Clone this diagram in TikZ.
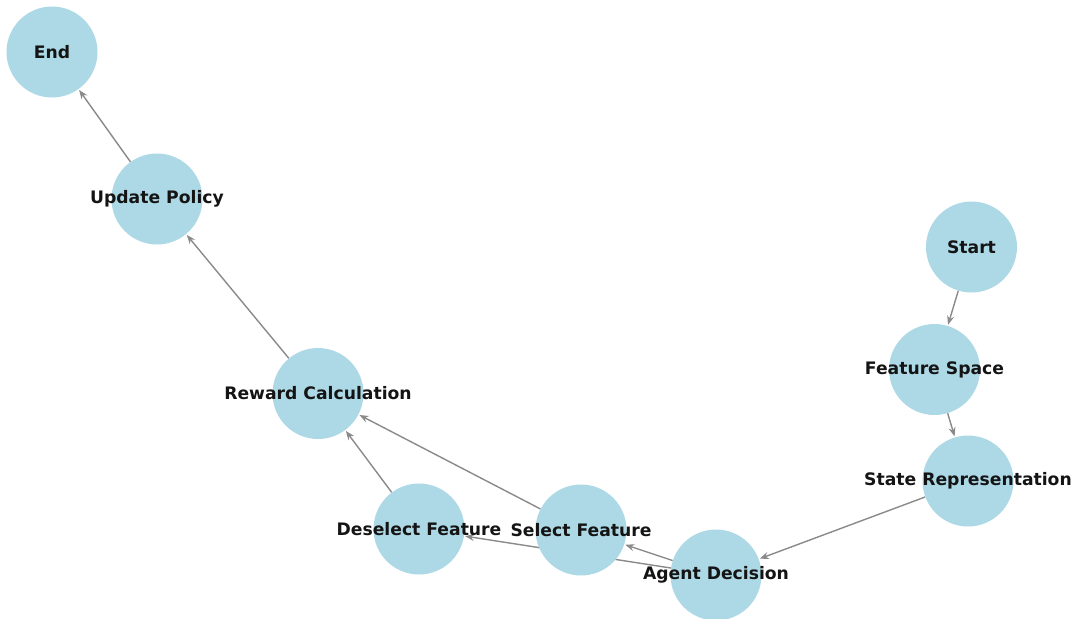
\documentclass[tikz,border=0pt]{standalone}
\usepackage{fontspec}
\setmainfont{DejaVu Sans}
\usetikzlibrary{arrows.meta,backgrounds}
\definecolor{nodeblue}{HTML}{ADD8E6}
\definecolor{edgegray}{HTML}{8A8A8A}
\tikzset{
  nodecirc/.style={circle,fill=nodeblue,draw=none,minimum size=91pt,inner sep=0pt},
  lbl/.style={font=\fontsize{17.2}{19}\selectfont\bfseries,text=black!92,inner sep=0pt},
  edge/.style={draw=edgegray,line width=1.4pt,-{Stealth[length=9pt,width=7pt]},shorten >=1pt}
}
\begin{document}
\begin{tikzpicture}[x=1pt,y=-1pt]
\useasboundingbox (0,0) rectangle (1072,619);
\clip (0,0) rectangle (1072,619);
\node[nodecirc] (end) at (52,52) {};
\node[nodecirc] (upd) at (157,199) {};
\node[nodecirc] (rew) at (318,393.5) {};
\node[nodecirc] (desel) at (419,529) {};
\node[nodecirc] (sel) at (581,530) {};
\node[nodecirc] (agent) at (716,575) {};
\node[nodecirc] (state) at (968,481) {};
\node[nodecirc] (fspace) at (934.5,369.5) {};
\node[nodecirc] (start) at (971.5,247) {};
\begin{scope}[on background layer]
\draw[edge] (start) -- (fspace);
\draw[edge] (fspace) -- (state);
\draw[edge] (state) -- (agent);
\draw[edge] (agent) -- (sel);
\draw[edge] (agent) -- (desel);
\draw[edge] (sel) -- (rew);
\draw[edge] (desel) -- (rew);
\draw[edge] (rew) -- (upd);
\draw[edge] (upd) -- (end);
\end{scope}
\node[lbl] (tend) at (end) {End};
\node[lbl] (tupd) at (upd) {Update Policy};
\node[lbl] (trew) at (rew) {Reward Calculation};
\node[lbl] (tdesel) at (desel) {Deselect Feature};
\node[lbl] (tsel) at (sel) {Select Feature};
\node[lbl] (tagent) at (agent) {Agent Decision};
\node[lbl] (tstate) at (state) {State Representation};
\node[lbl] (tfspace) at (fspace) {Feature Space};
\node[lbl] (tstart) at (start) {Start};
\end{tikzpicture}
\end{document}
